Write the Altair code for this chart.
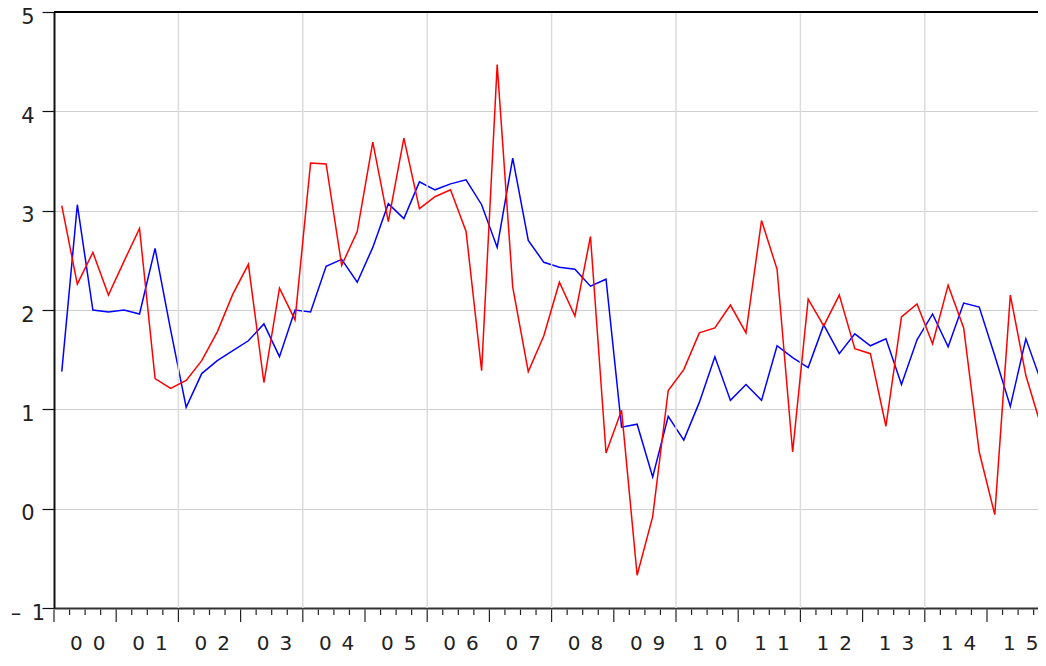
import altair as alt
import pandas as pd

# Quarterly observations 2000Q1 .. 2015Q4
years = [y for y in range(2000, 2016) for _ in range(4)]
quarters = [q for _ in range(2000, 2016) for q in range(1, 5)]

red_values = [3.05, 2.26, 2.58, 2.15, 2.49, 2.82, 1.31, 1.21, 1.29, 1.49, 1.78, 2.16, 2.46, 1.27, 2.22, 1.90,
              3.48, 3.47, 2.45, 2.79, 3.69, 2.89, 3.73, 3.02, 3.14, 3.21, 2.79, 1.39, 4.47, 2.23, 1.38, 1.74,
              2.28, 1.94, 2.74, 0.56, 0.99, -0.67, -0.08, 1.19, 1.40, 1.77, 1.82, 2.05, 1.77, 2.90, 2.41, 0.57,
              2.11, 1.84, 2.15, 1.61, 1.56, 0.83, 1.93, 2.06, 1.66, 2.25, 1.82, 0.57, -0.06, 2.15, 1.34, 0.82]

blue_values = [1.38, 3.06, 2.00, 1.98, 2.00, 1.96, 2.62, 1.80, 1.02, 1.36, 1.49, 1.59, 1.69, 1.86, 1.53, 2.00,
               1.98, 2.44, 2.51, 2.28, 2.63, 3.07, 2.92, 3.29, 3.21, 3.27, 3.31, 3.06, 2.63, 3.53, 2.70, 2.48,
               2.43, 2.41, 2.24, 2.31, 0.82, 0.85, 0.32, 0.93, 0.69, 1.07, 1.53, 1.09, 1.25, 1.09, 1.64, 1.52,
               1.42, 1.85, 1.56, 1.76, 1.64, 1.71, 1.25, 1.70, 1.96, 1.63, 2.07, 2.03, 1.54, 1.03, 1.71, 1.27]

y_ticks = [-1, 0, 1, 2, 3, 4, 5]
grid_years = [2002, 2004, 2006, 2008, 2010, 2012, 2014]
label_years = list(range(2000, 2016))

t = [y + (q - 0.5) / 4 for y, q in zip(years, quarters)]
df = pd.DataFrame({"t": t, "red": red_values, "blue": blue_values})

bounds = [y + (q - 1) / 4 for y, q in zip(years, quarters)]
tick_df = pd.DataFrame({"t": bounds, "major": [q == 1 for q in quarters]})
grid_df = pd.DataFrame({"t": grid_years})
top_df = pd.DataFrame({"v": [max(y_ticks)]})

FONT = "DejaVu Sans"
W, H = 984, 596
xscale = alt.Scale(domain=[2000, 2000 + W / 62.2], nice=False, zero=False)
yscale = alt.Scale(domain=[-1, 5], nice=False, zero=False)

sp = "\u2002"
x_label_expr = (
    f"substring(format(floor(datum.value)%100,'02d'),0,1) + '{sp}' + "
    f"substring(format(floor(datum.value)%100,'02d'),1,2)"
)
y_label_expr = f"datum.value < 0 ? '\u2013{sp}' + abs(datum.value) : '' + datum.value"

x_axis = alt.Axis(
    values=[y + 0.5 for y in label_years],
    ticks=False,
    tickSize=0,
    grid=False,
    domain=True,
    domainColor="#333333",
    domainWidth=2,
    labelExpr=x_label_expr,
    labelFont=FONT,
    labelFontSize=20,
    labelColor="#222222",
    labelPadding=41,
    labelOffset=2.2,
    labelBaseline="alphabetic",
    labelFlush=False,
    labelOverlap=False,
    title=None,
)

y_axis = alt.Axis(
    values=y_ticks,
    ticks=True,
    tickSize=12,
    tickColor="#111111",
    tickWidth=1.2,
    grid=True,
    gridColor="#d0d0d0",
    gridWidth=1,
    domain=True,
    domainColor="#111111",
    domainWidth=2,
    labelExpr=y_label_expr,
    labelFont=FONT,
    labelFontSize=21,
    labelColor="#222222",
    labelAlign="center",
    labelBaseline="middle",
    labelPadding=14.5,
    labelOffset=5,
    labelFlush=False,
    labelOverlap=False,
    title=None,
)

base = alt.Chart(df)

blue_line = base.mark_line(color="#0000ff", strokeWidth=1.5).encode(
    x=alt.X("t:Q", scale=xscale, axis=x_axis),
    y=alt.Y("blue:Q", scale=yscale, axis=y_axis),
)

red_line = base.mark_line(color="#ff0000", strokeWidth=1.5).encode(
    x=alt.X("t:Q", scale=xscale, axis=x_axis),
    y=alt.Y("red:Q", scale=yscale, axis=y_axis),
)

vgrid = alt.Chart(grid_df).mark_rule(color="#dcdcdc", strokeWidth=1.5).encode(
    x=alt.X("t:Q", scale=xscale, axis=x_axis)
)

top_line = alt.Chart(top_df).mark_rule(color="#000000", strokeWidth=2).encode(
    y=alt.Y("v:Q", scale=yscale, axis=y_axis)
)

minor_ticks = alt.Chart(tick_df).transform_filter("!datum.major").mark_rule(
    color="#222222", strokeWidth=1.2
).encode(
    x=alt.X("t:Q", scale=xscale, axis=x_axis),
    y=alt.value(H + 1.5),
    y2=alt.value(H + 7),
)

major_ticks = alt.Chart(tick_df).transform_filter("datum.major").mark_rule(
    color="#222222", strokeWidth=1.2
).encode(
    x=alt.X("t:Q", scale=xscale, axis=x_axis),
    y=alt.value(H + 1.5),
    y2=alt.value(H + 14),
)

chart = (
    alt.layer(blue_line, vgrid, red_line, top_line, minor_ticks, major_ticks)
    .properties(
        width=W,
        height=H,
        autosize=alt.AutoSizeParams(type="none"),
        padding={"left": 46, "top": 4, "right": 0, "bottom": 46},
    )
    .configure_view(stroke=None)
)

chart.save("out.html", embed_options={"renderer": "svg", "actions": False})
